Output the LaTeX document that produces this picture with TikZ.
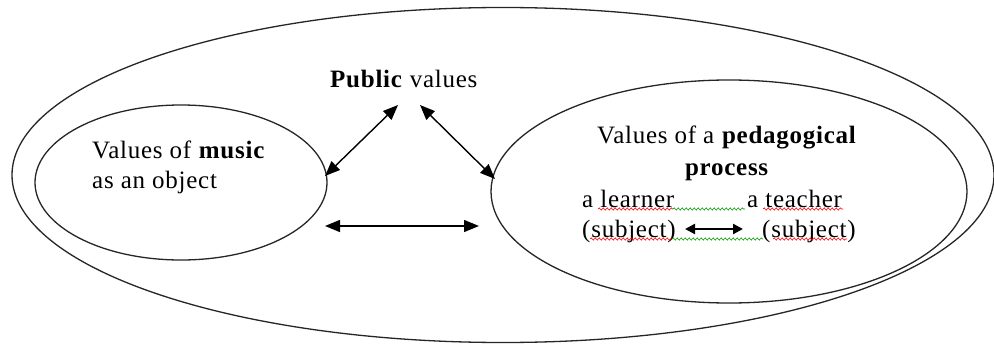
\documentclass[tikz,border=0pt]{standalone}
\usepackage{fontspec}
\setmainfont{Liberation Serif}[LetterSpace=3]
\usetikzlibrary{shapes.geometric,arrows.meta,decorations.pathmorphing}
\begin{document}
\begin{tikzpicture}[x=1pt,y=-1pt,
  oval/.style={draw, ellipse, inner sep=0pt, line width=1.3pt, draw=black!85},
  txt/.style={inner sep=0pt, font=\fontsize{25}{30}\selectfont, anchor=base west},
  arr/.style={line width=1.4pt, {Triangle[length=15pt,width=12pt]}-{Triangle[length=15pt,width=12pt]}},
  smallarr/.style={line width=2.2pt, {Triangle[length=10pt,width=10pt]}-{Triangle[length=10pt,width=10pt]}},
  wavyred/.style={draw=red, line width=0.6pt, decorate, decoration={snake, amplitude=1.1pt, segment length=4pt}},
  wavygreen/.style={draw=green!60!black, line width=0.6pt, decorate, decoration={snake, amplitude=1.1pt, segment length=4pt}}]
\useasboundingbox (0,0) rectangle (994,345);
\fill[white] (0,0) rectangle (994,345);

% ellipses
\node[oval, minimum width=982pt, minimum height=335pt] (outer) at (503,175) {};
\node[oval, minimum width=292pt, minimum height=155pt] (music) at (181,182.5) {};
\node[oval, minimum width=476pt, minimum height=223pt] (ped) at (729,191.5) {};

% texts
\node[txt] (pub) at (330,88) {\textbf{Public} values};
\node[txt] (m1) at (92,158) {Values of \textbf{music}};
\node[txt] (m2) at (92,188) {as an object};
\node[txt] (p1) at (597,143) {Values of a \textbf{pedagogical}};
\node[txt, anchor=base] (p2) at (727,175) {\textbf{process}};
\node[txt] (l1) at (582,207) {a learner};
\node[txt] (t1) at (747,207) {a teacher};
\node[txt] (l2) at (582,237) {(subject)};
\node[txt] (t2) at (762,237) {(subject)};

% arrows
\coordinate (pl) at (398,105);
\coordinate (ml) at (325,176);
\coordinate (pr) at (420,105);
\coordinate (pd) at (495,179);
\coordinate (h1) at (325,226);
\coordinate (h2) at (479,226);
\draw[arr] (ml) -- (pl);
\draw[arr] (pr) -- (pd);
\draw[arr] (h1) -- (h2);
\coordinate (s1) at (685,229);
\coordinate (s2) at (743,229);
\draw[smallarr] (s1) -- (s2);

% spell-check underlines
\coordinate (u1) at (598,209);
\coordinate (u2) at (673,209);
\coordinate (u3) at (745,209);
\coordinate (u4) at (763,209);
\coordinate (u5) at (843,209);
\draw[wavyred] (u1) -- (u2);
\draw[wavygreen] (u2) -- (u3);
\draw[wavyred] (u4) -- (u5);
\coordinate (v1) at (590,239);
\coordinate (v2) at (672,239);
\coordinate (v3) at (763,239);
\coordinate (v4) at (773,239);
\coordinate (v5) at (847,239);
\draw[wavyred] (v1) -- (v2);
\draw[wavygreen] (v2) -- (v3);
\draw[wavyred] (v4) -- (v5);
\end{tikzpicture}
\end{document}
